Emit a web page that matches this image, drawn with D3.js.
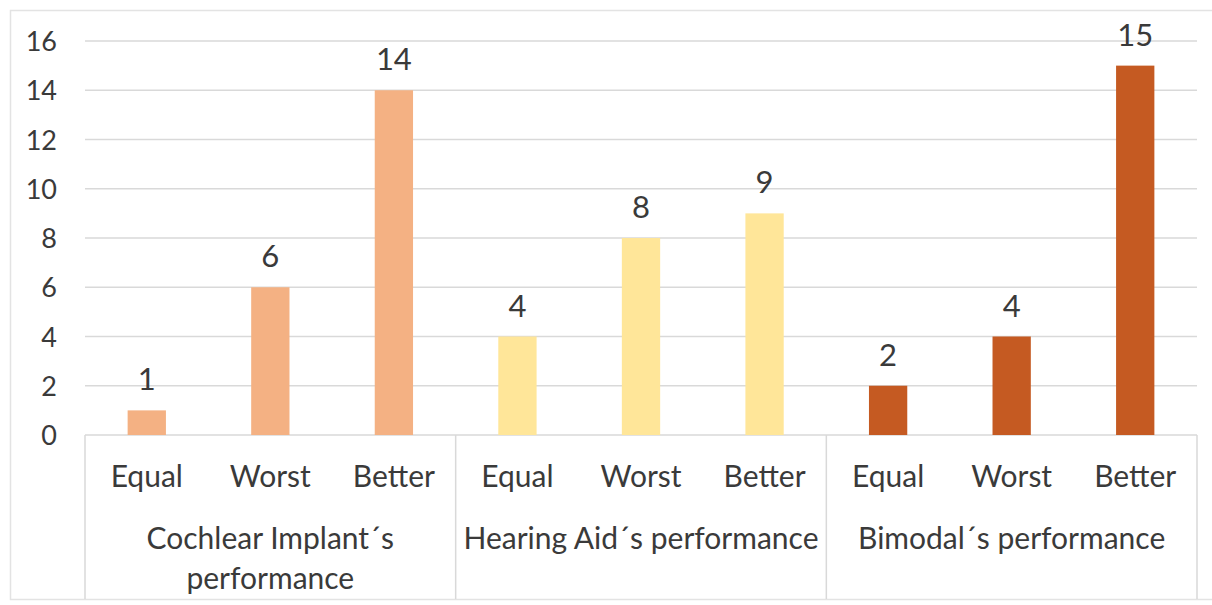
<!DOCTYPE html>
<html>
<head>
<meta charset="utf-8">
<script src="https://cdn.jsdelivr.net/npm/d3@7"></script>
<style>
  body { margin: 0; background: #fff; }
  text { font-family: Lato, "Liberation Sans", sans-serif; fill: #3a3a3a; }
</style>
</head>
<body>
<div id="container"></div>
<script>
// data
var groups = ["Cochlear Implant´s performance", "Hearing Aid´s performance", "Bimodal´s performance"];
var groupLines = [["Cochlear Implant´s", "performance"], ["Hearing Aid´s performance"], ["Bimodal´s performance"]];
var categories = ["Equal", "Worst", "Better"];
var cochlearValues = [1, 6, 14];
var hearingAidValues = [4, 8, 9];
var bimodalValues = [2, 4, 15];
var groupColors = ["#f4b183", "#ffe699", "#c55a22"];
var yTicks = [0, 2, 4, 6, 8, 10, 12, 14, 16];

var values = [cochlearValues, hearingAidValues, bimodalValues];

var width = 1212, height = 605;
var margin = { top: 41, right: 15, bottom: 170, left: 85 };

var svg = d3.select("#container").append("svg")
    .attr("width", width)
    .attr("height", height);

// outer frame
svg.append("rect")
    .attr("x", 10.5).attr("y", 10.5)
    .attr("width", 1210).attr("height", 589)
    .attr("fill", "none")
    .attr("stroke", "#e3e3e3")
    .attr("stroke-width", 1.5);

var x0 = d3.scaleBand()
    .domain(groups)
    .range([margin.left, width - margin.right])
    .padding(0);

var x1 = d3.scaleBand()
    .domain(categories)
    .range([0, x0.bandwidth()])
    .paddingInner(0.69)
    .paddingOuter(0.345);

var y = d3.scaleLinear()
    .domain([0, 16])
    .range([height - margin.bottom, margin.top]);

// gridlines
svg.append("g")
    .selectAll("line")
    .data(yTicks)
    .join("line")
    .attr("x1", margin.left)
    .attr("x2", width - margin.right)
    .attr("y1", d => y(d))
    .attr("y2", d => y(d))
    .attr("stroke", "#d9d9d9")
    .attr("stroke-width", 1.5);

// y axis labels
var yAxis = svg.append("g")
    .attr("transform", "translate(" + (margin.left - 28) + ",0)")
    .call(d3.axisLeft(y).tickValues(yTicks).tickSize(0).tickPadding(0));
yAxis.select(".domain").remove();
yAxis.selectAll("text")
    .style("font-size", "27px")
    .attr("fill", "#3a3a3a")
    .attr("dy", "0.36em");

// group separators
var bounds = groups.map(g => x0(g)).concat([width - margin.right]);
svg.append("g")
    .selectAll("line")
    .data(bounds)
    .join("line")
    .attr("x1", d => d)
    .attr("x2", d => d)
    .attr("y1", y(0))
    .attr("y2", 599)
    .attr("stroke", "#d9d9d9")
    .attr("stroke-width", 1.5);

// bars
var rows = [];
groups.forEach(function (g, gi) {
    categories.forEach(function (c, ci) {
        rows.push({ group: g, category: c, value: values[gi][ci], color: groupColors[gi] });
    });
});

var bars = svg.append("g");
bars.selectAll("rect")
    .data(rows)
    .join("rect")
    .attr("x", d => x0(d.group) + x1(d.category))
    .attr("y", d => y(d.value))
    .attr("width", x1.bandwidth())
    .attr("height", d => y(0) - y(d.value))
    .attr("fill", d => d.color);

bars.selectAll("text")
    .data(rows)
    .join("text")
    .attr("x", d => x0(d.group) + x1(d.category) + x1.bandwidth() / 2)
    .attr("y", d => y(d.value) - 20)
    .attr("text-anchor", "middle")
    .style("font-size", "31px")
    .text(d => d.value);

// category labels
svg.append("g")
    .selectAll("text")
    .data(rows)
    .join("text")
    .attr("x", d => x0(d.group) + x1(d.category) + x1.bandwidth() / 2)
    .attr("y", 487)
    .attr("text-anchor", "middle")
    .style("font-size", "30px")
    .text(d => d.category);

// group labels
groups.forEach(function (g, gi) {
    svg.append("text")
        .attr("x", x0(g) + x0.bandwidth() / 2)
        .attr("y", 549)
        .attr("text-anchor", "middle")
        .style("font-size", "30px")
        .selectAll("tspan")
        .data(groupLines[gi])
        .join("tspan")
        .attr("x", x0(g) + x0.bandwidth() / 2)
        .attr("dy", (d, i) => i === 0 ? 0 : 40)
        .text(d => d);
});
</script>
</body>
</html>
